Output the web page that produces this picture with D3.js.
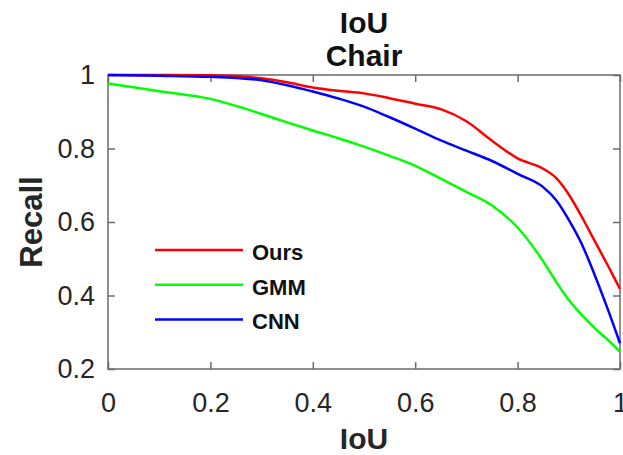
<html>
<head>
<script src="https://d3js.org/d3.v7.min.js"></script>
<style>
  body { margin: 0; background: #fff; }
  text { font-family: "Liberation Sans", Arial, sans-serif; }
</style>
</head>
<body>
<svg id="chart" width="623" height="455"></svg>
<script>
// values
const iou  = [0, 0.1, 0.2, 0.25, 0.3, 0.35, 0.4, 0.45, 0.5, 0.55, 0.6, 0.65, 0.7, 0.75, 0.8, 0.85, 0.875, 0.9, 0.925, 0.95, 0.975, 1];
const ours = [1.0, 1.0, 0.999, 0.997, 0.991, 0.980, 0.966, 0.957, 0.950, 0.937, 0.922, 0.907, 0.874, 0.821, 0.773, 0.745, 0.720, 0.675, 0.615, 0.550, 0.485, 0.418];
const gmm  = [0.977, 0.956, 0.935, 0.916, 0.894, 0.871, 0.849, 0.828, 0.805, 0.780, 0.753, 0.718, 0.682, 0.645, 0.585, 0.493, 0.438, 0.388, 0.348, 0.312, 0.281, 0.247];
const cnn  = [1.0, 0.998, 0.995, 0.992, 0.986, 0.972, 0.955, 0.936, 0.914, 0.885, 0.854, 0.822, 0.794, 0.766, 0.731, 0.695, 0.660, 0.606, 0.541, 0.458, 0.367, 0.270];

const seriesNames  = ["Ours", "GMM", "CNN"];
const seriesColors = ["#ff0000", "#00ff00", "#0000ff"];
const seriesValues = [ours, gmm, cnn];

const xTicks = [0, 0.2, 0.4, 0.6, 0.8, 1];
const yTicks = [0.2, 0.4, 0.6, 0.8, 1];

const svg = d3.select("svg#chart");
const plotL = 108, plotR = 620, plotT = 75, plotB = 369;

const x = d3.scaleLinear().domain([0, 1]).range([plotL, plotR]);
const y = d3.scaleLinear().domain([0.2, 1]).range([plotB, plotT]);

const fmt = d => d === 0 ? "0" : d === 1 ? "1" : d3.format(".1f")(d);
const axisColor = "#6b6b6b";

function styleAxis(g) {
  g.select(".domain").remove();
  g.selectAll(".tick line").attr("stroke", axisColor).attr("stroke-width", 1.5);
  g.selectAll(".tick text").attr("fill", "#262626").style("font-size", "27px");
}

svg.append("g").attr("transform", `translate(0,${plotB})`)
  .call(d3.axisBottom(x).tickValues(xTicks).tickFormat(fmt).tickSize(-7).tickPadding(24))
  .call(styleAxis);
svg.append("g").attr("transform", `translate(0,${plotT})`)
  .call(d3.axisTop(x).tickValues(xTicks).tickFormat("").tickSize(-7))
  .call(styleAxis);
svg.append("g").attr("transform", `translate(${plotL},0)`)
  .call(d3.axisLeft(y).tickValues(yTicks).tickFormat(fmt).tickSize(-7).tickPadding(13))
  .call(styleAxis);
svg.append("g").attr("transform", `translate(${plotR},0)`)
  .call(d3.axisRight(y).tickValues(yTicks).tickFormat("").tickSize(-7))
  .call(styleAxis);

// box
svg.append("rect")
  .attr("x", plotL).attr("y", plotT)
  .attr("width", plotR - plotL).attr("height", plotB - plotT)
  .attr("fill", "none").attr("stroke", axisColor).attr("stroke-width", 1.5);

const line = d3.line()
  .x((d, i) => x(iou[i]))
  .y(d => y(d))
  .curve(d3.curveMonotoneX);

seriesValues.forEach((vals, k) => {
  svg.append("path")
    .datum(vals)
    .attr("d", line)
    .attr("fill", "none")
    .attr("stroke", seriesColors[k])
    .attr("stroke-width", 2.5);
});

// legend
seriesNames.forEach((name, k) => {
  const ly = 250 + k * 34.7;
  svg.append("line")
    .attr("x1", 155).attr("x2", 243)
    .attr("y1", ly).attr("y2", ly)
    .attr("stroke", seriesColors[k]).attr("stroke-width", 2.5);
  svg.append("text")
    .attr("x", 252).attr("y", ly + 10)
    .style("font-size", "22px").style("font-weight", "bold")
    .attr("fill", "#111")
    .text(name);
});

// titles
svg.append("text").attr("x", 364).attr("y", 33)
  .attr("text-anchor", "middle").style("font-size", "30px").style("font-weight", "bold")
  .attr("fill", "#111").text("IoU");
svg.append("text").attr("x", 364).attr("y", 66)
  .attr("text-anchor", "middle").style("font-size", "30px").style("font-weight", "bold")
  .attr("fill", "#111").text("Chair");

svg.append("text").attr("x", 364).attr("y", 449)
  .attr("text-anchor", "middle").style("font-size", "30px").style("font-weight", "bold")
  .attr("fill", "#262626").text("IoU");
svg.append("text").attr("transform", "translate(42,222) rotate(-90)")
  .attr("text-anchor", "middle").style("font-size", "31px").style("font-weight", "bold")
  .attr("fill", "#262626").text("Recall");
</script>
</body>
</html>
